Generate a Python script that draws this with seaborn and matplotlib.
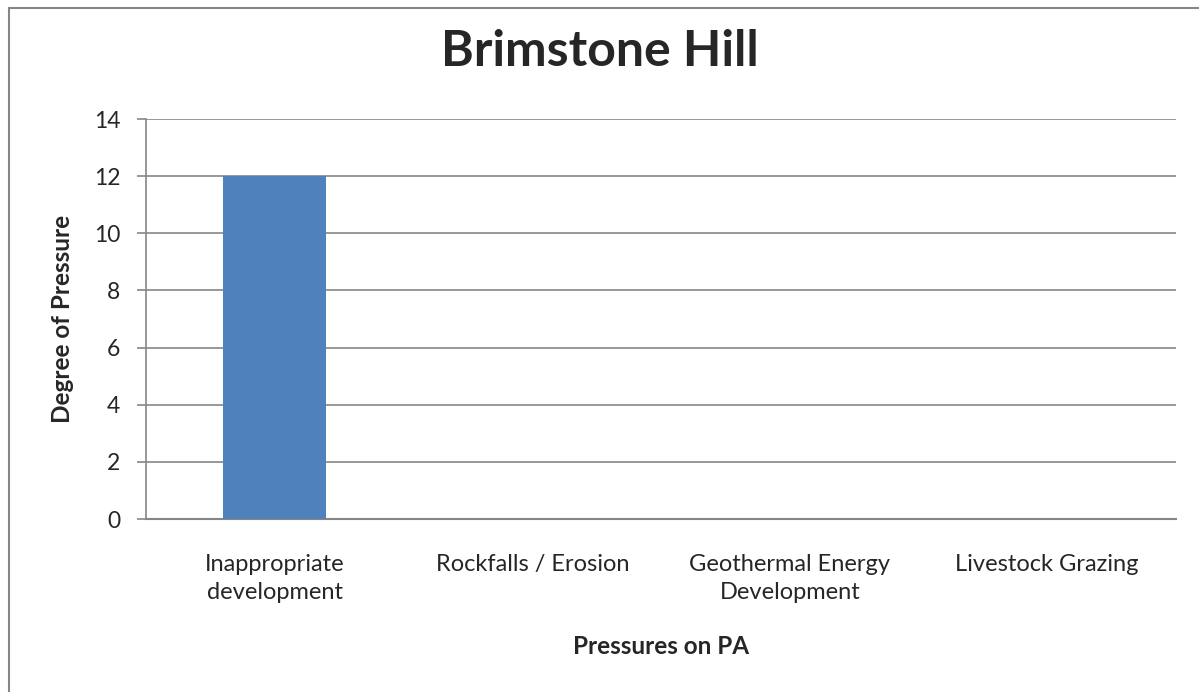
import pandas as pd
import matplotlib.pyplot as plt
import seaborn as sns
from matplotlib.lines import Line2D

# Data
categories = ["Inappropriate\ndevelopment", "Rockfalls / Erosion",
              "Geothermal Energy\nDevelopment", "Livestock Grazing"]
values = [12, 0, 0, 0]
y_ticks = [0, 2, 4, 6, 8, 10, 12, 14]

df = pd.DataFrame({"Pressure": categories, "Degree": values})

sns.set_style("white")
plt.rcParams["font.family"] = ["Lato", "DejaVu Sans"]

fig = plt.figure(figsize=(11.99, 6.92), dpi=100)
ax = fig.add_axes([0.1218, 0.25, 0.859, 0.578])

sns.barplot(data=df, x="Pressure", y="Degree", color="#4F81BD",
            width=0.4, saturation=1, linewidth=0, ax=ax, zorder=3)

grid_col = "#868686"
ax.set_ylim(0, 14)
ax.set_yticks(y_ticks)
ax.yaxis.grid(True, color=grid_col, linewidth=1.2, zorder=0)
ax.set_axisbelow(True)

for s in ["top", "right"]:
    ax.spines[s].set_visible(False)
ax.spines["left"].set_color(grid_col)
ax.spines["bottom"].set_color(grid_col)
ax.spines["left"].set_linewidth(1.2)
ax.spines["bottom"].set_linewidth(1.5)

ax.tick_params(axis="y", length=6.5, width=1.2, color=grid_col,
               labelsize=16.5, pad=12, left=True)
ax.tick_params(axis="x", length=0, labelsize=17, pad=25)
for t in ax.get_xticklabels():
    t.set_linespacing(1.45)

ax.set_xlabel("Pressures on PA", fontsize=17.5, fontweight="bold", labelpad=23)
ax.set_ylabel("Degree of Pressure", fontsize=17.5, fontweight="bold", labelpad=14)
fig.text(0.5, 0.925, "Brimstone Hill", ha="center", va="center",
         fontsize=36, fontweight="bold")

# chart frame (left and top edges visible)
fig.add_artist(Line2D([0.0075, 0.0075], [0, 0.989], color=grid_col,
                      linewidth=1.5, transform=fig.transFigure))
fig.add_artist(Line2D([0.0075, 1], [0.989, 0.989], color=grid_col,
                      linewidth=1.5, transform=fig.transFigure))

fig.savefig("out.png", dpi=100)
